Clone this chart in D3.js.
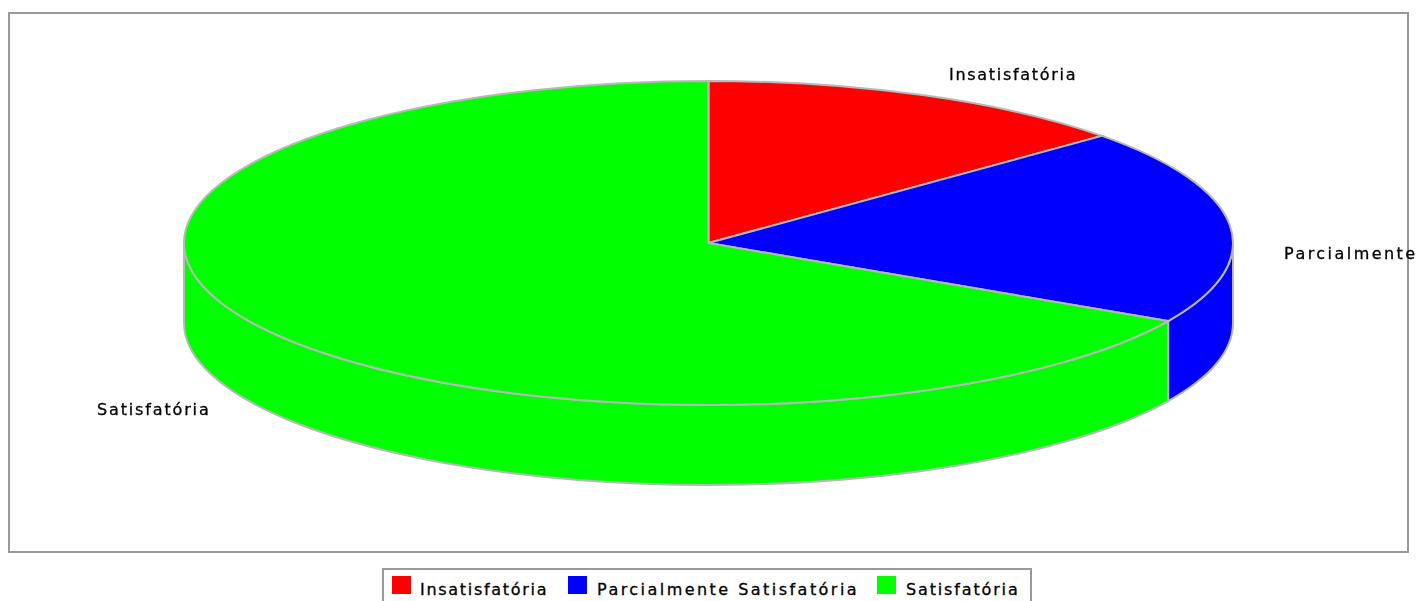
<!DOCTYPE html>
<html>
<head>
<meta charset="utf-8">
<script src="https://cdnjs.cloudflare.com/ajax/libs/d3/7.8.5/d3.min.js"></script>
<style>
  html, body { margin: 0; padding: 0; background: #fff; overflow: hidden; }
  svg { display: block; filter: blur(0.6px); }
  text { font-family: "DejaVu Sans", sans-serif; font-size: 16px; fill: #000; stroke: #000; stroke-width: 0.3px; }
</style>
</head>
<body>
<div id="chart"></div>
<script>
// chart data
const categories = ["Insatisfatória", "Parcialmente Satisfatória", "Satisfatória"];
const values = [13.5, 19.5, 67];
const colors = ["#ff0000", "#0000ff", "#00ff00"];

// set svg parameters
const width = 1421,
      height = 601;
const svg = d3.select("#chart")
  .append("svg")
    .attr("width", width)
    .attr("height", height);

// ellipse geometry of the pie
const cx = 708.5, cy = 243, rx = 524.5, ry = 162, depth = 80;
const edge = "#b8b8b8";

const color = d3.scaleOrdinal().domain(categories).range(colors);

const pie = d3.pie().sort(null).value(d => d.value);
const slices = pie(categories.map((c, i) => ({ name: c, value: values[i] })));

// point on the top ellipse, angle clockwise from 12 o'clock
const px = a => cx + rx * Math.sin(a);
const py = a => cy - ry * Math.cos(a);

// plot frame
svg.append("rect")
  .attr("x", 9).attr("y", 13)
  .attr("width", 1399).attr("height", 539)
  .attr("fill", "#fff")
  .attr("stroke", "#999")
  .attr("stroke-width", 2);

// side walls, only the front half of the ellipse is visible
const sides = svg.append("g");
slices.forEach(s => {
  const a0 = Math.max(s.startAngle, Math.PI / 2);
  const a1 = Math.min(s.endAngle, Math.PI * 1.5);
  if (a1 <= a0) return;
  const large = a1 - a0 > Math.PI ? 1 : 0;
  sides.append("path")
    .attr("d", `M${px(a0)},${py(a0)}`
      + `A${rx},${ry} 0 ${large} 1 ${px(a1)},${py(a1)}`
      + `L${px(a1)},${py(a1) + depth}`
      + `A${rx},${ry} 0 ${large} 0 ${px(a0)},${py(a0) + depth}Z`)
    .attr("fill", color(s.data.name))
    .attr("stroke", edge)
    .attr("stroke-width", 2);
});

// top face, d3.arc squashed to the ellipse
const arc = d3.arc().innerRadius(0).outerRadius(rx);
svg.append("g")
  .attr("transform", `translate(${cx},${cy}) scale(1,${ry / rx})`)
  .selectAll("path")
  .data(slices)
  .join("path")
    .attr("d", arc)
    .attr("fill", d => color(d.data.name))
    .attr("stroke", edge)
    .attr("stroke-width", 2)
    .attr("vector-effect", "non-scaling-stroke");

// letter spacing differs per string in the original
const spacing = [1.7, 2.46, 1.85];

// slice labels, the long one runs off the picture in the original
const clip = svg.append("clipPath").attr("id", "page");
clip.append("rect").attr("width", 1417).attr("height", height);

const labelAt = [[949, 80], [1284, 259], [97, 415]];
svg.append("g")
  .attr("clip-path", "url(#page)")
  .selectAll("text")
  .data(categories)
  .join("text")
    .attr("x", (d, i) => labelAt[i][0])
    .attr("y", (d, i) => labelAt[i][1])
    .style("letter-spacing", (d, i) => spacing[i] + "px")
    .text(d => d);

// legend
svg.append("rect")
  .attr("x", 383).attr("y", 569)
  .attr("width", 648).attr("height", 50)
  .attr("fill", "#fff")
  .attr("stroke", "#999")
  .attr("stroke-width", 2);

const legendAt = [[392, 420], [568, 597], [877, 906]];
const legend = svg.append("g")
  .selectAll("g")
  .data(categories)
  .join("g");
legend.append("rect")
  .attr("x", (d, i) => legendAt[i][0])
  .attr("y", 576)
  .attr("width", 19).attr("height", 18)
  .attr("fill", d => color(d));
legend.append("text")
  .attr("x", (d, i) => legendAt[i][1])
  .attr("y", 595)
  .style("letter-spacing", (d, i) => spacing[i] + "px")
  .text(d => d);
</script>
</body>
</html>
